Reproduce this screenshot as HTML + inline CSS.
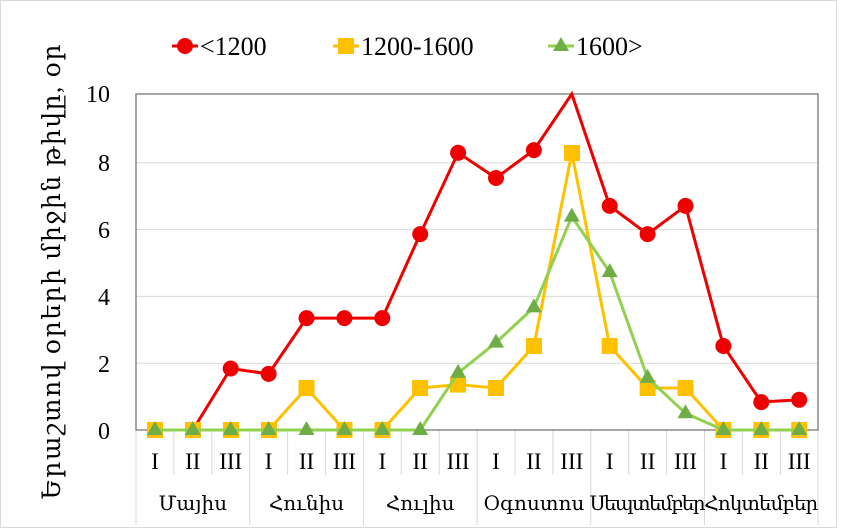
<!DOCTYPE html>
<html><head><meta charset="utf-8"><style>
html,body{margin:0;padding:0;background:#fff}
svg{display:block}
text{font-family:"Liberation Serif","DejaVu Serif",serif;fill:#000}
</style></head><body>
<svg width="841" height="528" viewBox="0 0 841 528" xmlns="http://www.w3.org/2000/svg">
<rect x="0.5" y="0.5" width="836" height="527" fill="#fff" stroke="#d9d9d9"/>
<g stroke="#d9d9d9" stroke-width="1">
<line x1="136" y1="162.8" x2="818" y2="162.8"/>
<line x1="136" y1="229.6" x2="818" y2="229.6"/>
<line x1="136" y1="296.4" x2="818" y2="296.4"/>
<line x1="136" y1="363.2" x2="818" y2="363.2"/>
<line x1="136" y1="430" x2="818" y2="430"/>
<line x1="173.9" y1="430" x2="173.9" y2="475"/><line x1="211.8" y1="430" x2="211.8" y2="475"/>
<line x1="287.6" y1="430" x2="287.6" y2="475"/><line x1="325.5" y1="430" x2="325.5" y2="475"/>
<line x1="401.3" y1="430" x2="401.3" y2="475"/><line x1="439.2" y1="430" x2="439.2" y2="475"/>
<line x1="515" y1="430" x2="515" y2="475"/><line x1="552.9" y1="430" x2="552.9" y2="475"/>
<line x1="628.7" y1="430" x2="628.7" y2="475"/><line x1="666.6" y1="430" x2="666.6" y2="475"/>
<line x1="742.4" y1="430" x2="742.4" y2="475"/><line x1="780.3" y1="430" x2="780.3" y2="475"/>
<line x1="136" y1="430" x2="136" y2="525"/><line x1="249.7" y1="430" x2="249.7" y2="525"/>
<line x1="363.4" y1="430" x2="363.4" y2="525"/><line x1="477.1" y1="430" x2="477.1" y2="525"/>
<line x1="590.8" y1="430" x2="590.8" y2="525"/><line x1="704.5" y1="430" x2="704.5" y2="525"/>
<line x1="818" y1="430" x2="818" y2="525"/>
</g>
<rect x="136" y="94" width="682" height="336" fill="none" stroke="#767676" stroke-width="1.3"/>
<g font-size="24" text-anchor="end">
<text x="110" y="102">10</text><text x="110" y="171">8</text><text x="110" y="238">6</text>
<text x="110" y="305">4</text><text x="110" y="372">2</text><text x="110" y="439">0</text>
</g>
<text transform="translate(60,272) rotate(-90)" font-size="25" text-anchor="middle" textLength="455">Երաշտով օրերի միջին թիվը, օր</text>
<g font-size="23" text-anchor="middle">
<text x="154.9" y="469">I</text><text x="192.8" y="469">II</text><text x="230.7" y="469">III</text>
<text x="268.6" y="469">I</text><text x="306.5" y="469">II</text><text x="344.4" y="469">III</text>
<text x="382.3" y="469">I</text><text x="420.2" y="469">II</text><text x="458.1" y="469">III</text>
<text x="496" y="469">I</text><text x="533.9" y="469">II</text><text x="571.8" y="469">III</text>
<text x="609.7" y="469">I</text><text x="647.6" y="469">II</text><text x="685.5" y="469">III</text>
<text x="723.4" y="469">I</text><text x="761.3" y="469">II</text><text x="799.2" y="469">III</text>
</g>
<g font-size="20" text-anchor="middle">
<text x="192.8" y="510">Մայիս</text><text x="306.5" y="510">Հունիս</text><text x="420.2" y="510">Հուլիս</text>
<text x="533.9" y="510">Օգոստոս</text><text x="647.6" y="510" textLength="116">Սեպտեմբեր</text><text x="761.3" y="510" textLength="114">Հոկտեմբեր</text>
</g>
<polyline fill="none" stroke="#ee0000" stroke-width="3" points="154.9,430 192.8,430 230.7,368.5 268.6,373.9 306.5,318.1 344.4,318.1 382.3,318.1 420.2,234.1 458.1,152.8 496,178 533.9,150.1 571.8,94 609.7,205.9 647.6,234.1 685.5,205.9 723.4,346 761.3,402.1 799.2,399.8"/>
<g fill="#ee0000">
<circle cx="154.9" cy="430" r="8"/><circle cx="192.8" cy="430" r="8"/><circle cx="230.7" cy="368.5" r="8"/><circle cx="268.6" cy="373.9" r="8"/><circle cx="306.5" cy="318.1" r="8"/><circle cx="344.4" cy="318.1" r="8"/><circle cx="382.3" cy="318.1" r="8"/><circle cx="420.2" cy="234.1" r="8"/><circle cx="458.1" cy="152.8" r="8"/><circle cx="496" cy="178" r="8"/><circle cx="533.9" cy="150.1" r="8"/><circle cx="609.7" cy="205.9" r="8"/><circle cx="647.6" cy="234.1" r="8"/><circle cx="685.5" cy="205.9" r="8"/><circle cx="723.4" cy="346" r="8"/><circle cx="761.3" cy="402.1" r="8"/><circle cx="799.2" cy="399.8" r="8"/>
</g>
<polyline fill="none" stroke="#ffc000" stroke-width="3" points="154.9,430 192.8,430 230.7,430 268.6,430 306.5,388 344.4,430 382.3,430 420.2,388 458.1,384.6 496,388 533.9,346 571.8,152.8 609.7,346 647.6,388 685.5,388 723.4,430 761.3,430 799.2,430"/>
<g fill="#ffc000">
<rect x="147" y="422" width="16" height="16"/><rect x="185" y="422" width="16" height="16"/><rect x="223" y="422" width="16" height="16"/><rect x="261" y="422" width="16" height="16"/><rect x="298.5" y="380" width="16" height="16"/><rect x="336.5" y="422" width="16" height="16"/><rect x="374.5" y="422" width="16" height="16"/><rect x="412" y="380" width="16" height="16"/><rect x="450" y="376.6" width="16" height="16"/><rect x="488" y="380" width="16" height="16"/><rect x="526" y="338" width="16" height="16"/><rect x="564" y="145" width="16" height="16"/><rect x="601.7" y="338" width="16" height="16"/><rect x="639.6" y="380" width="16" height="16"/><rect x="677.5" y="380" width="16" height="16"/><rect x="715.4" y="422" width="16" height="16"/><rect x="753.3" y="422" width="16" height="16"/><rect x="791.2" y="422" width="16" height="16"/>
</g>
<polyline fill="none" stroke="#92d050" stroke-width="3" points="154.9,430 192.8,430 230.7,430 268.6,430 306.5,430 344.4,430 382.3,430 420.2,430 458.1,372.9 496,342.6 533.9,307.4 571.8,216.6 609.7,272.1 647.6,377.9 685.5,413.2 723.4,430 761.3,430 799.2,430"/>
<g fill="#70ad47">
<path d="M154.9,421l8,14h-16z"/><path d="M192.8,421l8,14h-16z"/><path d="M230.7,421l8,14h-16z"/><path d="M268.6,421l8,14h-16z"/><path d="M306.5,421l8,14h-16z"/><path d="M344.4,421l8,14h-16z"/><path d="M382.3,421l8,14h-16z"/><path d="M420.2,421l8,14h-16z"/><path d="M458.1,363.9l8,14h-16z"/><path d="M496,333.6l8,14h-16z"/><path d="M533.9,298.4l8,14h-16z"/><path d="M571.8,207.6l8,14h-16z"/><path d="M609.7,263.1l8,14h-16z"/><path d="M647.6,368.9l8,14h-16z"/><path d="M685.5,404.2l8,14h-16z"/><path d="M723.4,421l8,14h-16z"/><path d="M761.3,421l8,14h-16z"/><path d="M799.2,421l8,14h-16z"/>
</g>
<line x1="172" y1="46" x2="198" y2="46" stroke="#ee0000" stroke-width="3"/><circle cx="185" cy="46" r="8" fill="#ee0000"/>
<text x="200" y="55" font-size="26">&lt;1200</text>
<line x1="333" y1="46" x2="359" y2="46" stroke="#ffc000" stroke-width="3"/><rect x="338" y="38" width="16" height="16" fill="#ffc000"/>
<text x="361" y="55" font-size="26">1200-1600</text>
<line x1="548" y1="46" x2="574" y2="46" stroke="#92d050" stroke-width="3"/><path d="M561,37l8,14h-16z" fill="#70ad47"/>
<text x="576" y="55" font-size="26">1600&gt;</text>
</svg>
</body></html>
